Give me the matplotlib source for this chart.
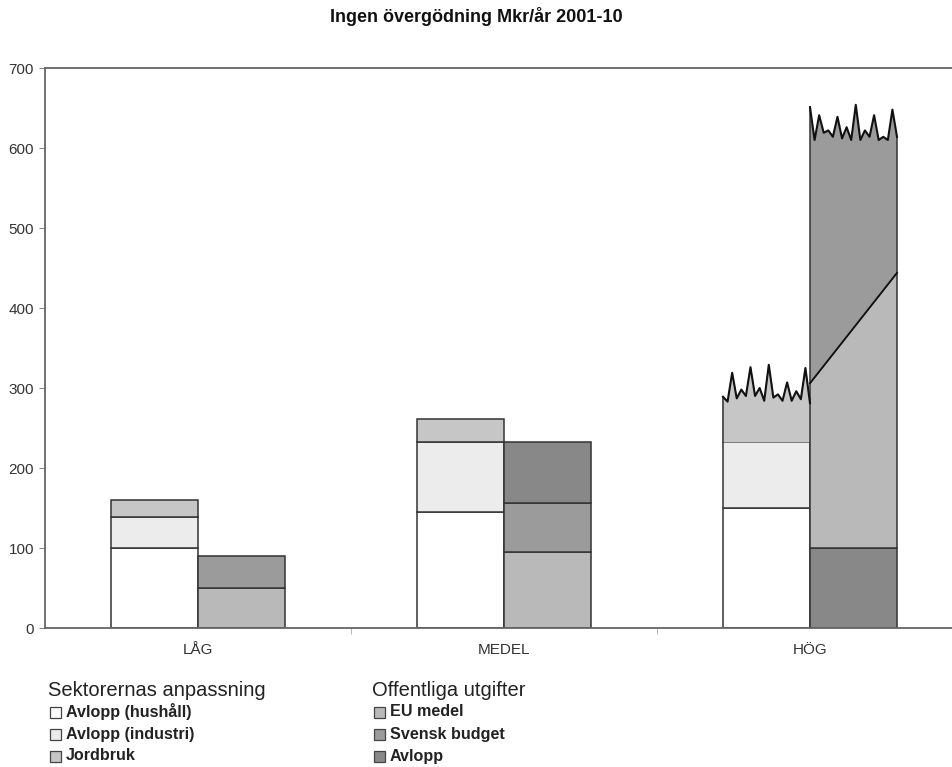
import numpy as np
import matplotlib.pyplot as plt
from matplotlib.patches import Rectangle

plt.rcParams['font.family'] = ['Liberation Sans', 'DejaVu Sans']

categories = ['LÅG', 'MEDEL', 'HÖG']
yticks = [0, 100, 200, 300, 400, 500, 600, 700]

# Sektorernas anpassning (vänster stapel i varje grupp)
avlopp_hushall = [100, 145, 150]
avlopp_industri = [39, 88, 83]
jordbruk = [21, 28]            # HÖG ritas med taggig topp

# Offentliga utgifter (höger stapel), LÅG och MEDEL
eu_medel = [50, 95]
svensk_budget = [40, 61]
avlopp_off = [0, 77]

# HÖG, offentliga utgifter
hog_avlopp = 100
hog_eu_start, hog_eu_end = 306, 444

# taggiga toppar (HÖG)
hog_jordbruk_topp = [289, 283, 319, 287, 298, 290, 326, 290, 300, 284,
                     329, 288, 292, 284, 307, 284, 296, 286, 325, 281]
hog_offentlig_topp = [651, 610, 641, 619, 622, 614, 639, 612, 626, 610,
                      654, 610, 622, 614, 641, 610, 614, 610, 648, 614]

colors = {
    'hushall': '#ffffff',
    'industri': '#ececec',
    'jordbruk': '#c6c6c6',
    'eu': '#b9b9b9',
    'svensk': '#9b9b9b',
    'avlopp': '#888888',
}
edge = '#333333'
lw = 1.1

fig = plt.figure(figsize=(9.53, 7.67), dpi=100)
ax = fig.add_axes([45 / 953, 139 / 767, 908 / 953, 560 / 767])

w = 87 / 306
x = np.arange(len(categories))

# vänster staplar
bottom = np.zeros(3)
ax.bar(x - w, avlopp_hushall, w, align='edge', color=colors['hushall'], edgecolor=edge, linewidth=lw)
bottom += avlopp_hushall
ax.bar(x - w, avlopp_industri, w, bottom=bottom, align='edge', color=colors['industri'], edgecolor=edge, linewidth=lw)
bottom += avlopp_industri
ax.bar(x[:2] - w, jordbruk, w, bottom=bottom[:2], align='edge', color=colors['jordbruk'], edgecolor=edge, linewidth=lw)

# HÖG jordbruk med taggig topp
xs = np.linspace(2 - w, 2, len(hog_jordbruk_topp))
base = bottom[2]
poly_x = np.concatenate([[2 - w], xs, [2]])
poly_y = np.concatenate([[base], hog_jordbruk_topp, [base]])
ax.fill(poly_x, poly_y, color=colors['jordbruk'], zorder=2)
ax.plot([2 - w, 2 - w], [base, hog_jordbruk_topp[0]], color=edge, lw=lw, zorder=3)
ax.plot(xs, hog_jordbruk_topp, color='#111111', lw=1.5, zorder=3)

# höger staplar LÅG, MEDEL
b2 = np.zeros(2)
ax.bar(x[:2], eu_medel, w, align='edge', color=colors['eu'], edgecolor=edge, linewidth=lw)
b2 += eu_medel
ax.bar(x[:2], svensk_budget, w, bottom=b2, align='edge', color=colors['svensk'], edgecolor=edge, linewidth=lw)
b2 += svensk_budget
ax.bar(x[1:2], avlopp_off[1:2], w, bottom=b2[1:2], align='edge', color=colors['avlopp'], edgecolor=edge, linewidth=lw)

# HÖG höger stapel
ax.bar([2], [hog_avlopp], w, align='edge', color=colors['avlopp'], edgecolor=edge, linewidth=lw)
ax.fill([2, 2 + w, 2 + w, 2], [hog_avlopp, hog_avlopp, hog_eu_end, hog_eu_start],
        facecolor=colors['eu'], edgecolor=edge, linewidth=lw, zorder=2)
xs2 = np.linspace(2, 2 + w, len(hog_offentlig_topp))
sx = np.concatenate([[2, 2 + w], xs2[::-1]])
sy = np.concatenate([[hog_eu_start, hog_eu_end], hog_offentlig_topp[::-1]])
ax.fill(sx, sy, facecolor=colors['svensk'], zorder=2)
ax.plot([2, 2], [hog_eu_start, hog_offentlig_topp[0]], color=edge, lw=lw, zorder=3)
ax.plot([2 + w, 2 + w], [hog_eu_end, hog_offentlig_topp[-1]], color=edge, lw=lw, zorder=3)
ax.plot([2, 2 + w], [hog_eu_start, hog_eu_end], color='#111111', lw=1.3, zorder=3)
ax.plot(xs2, hog_offentlig_topp, color='#111111', lw=1.5, zorder=3)

ax.set_yticks(yticks)
ax.set_yticklabels([str(v) for v in yticks], fontsize=11, color='#333333')
ax.set_xticks(x)
ax.set_xticklabels(categories, fontsize=11, color='#333333')
ax.tick_params(axis='x', length=0, pad=11)
ax.tick_params(axis='y', length=4, color='#888888', pad=4)
ax.set_xticks([0.5, 1.5], minor=True)
ax.tick_params(axis='x', which='minor', length=4, color='#aaaaaa')
# gränser sätts sist så att tickarna inte vidgar dem
ax.set_xlim(-0.5, -0.5 + 908 / 306)
ax.set_ylim(0, 700)
for s in ['left', 'top', 'bottom']:
    ax.spines[s].set_color('#666666')
    ax.spines[s].set_linewidth(1.3)
ax.spines['right'].set_visible(False)

fig.text(476 / 953, 1 - 17 / 767, 'Ingen övergödning Mkr/år 2001-10', ha='center', va='center',
         fontsize=13, fontweight='bold', color='#111111')

# förklaring
legend_groups = [
    ('Sektorernas anpassning', 48, [('Avlopp (hushåll)', 'hushall'), ('Avlopp (industri)', 'industri'), ('Jordbruk', 'jordbruk')]),
    ('Offentliga utgifter', 372, [('EU medel', 'eu'), ('Svensk budget', 'svensk'), ('Avlopp', 'avlopp')]),
]
for title, px, items in legend_groups:
    fig.text(px / 953, 1 - 690 / 767, title, ha='left', va='center', fontsize=14.5, color='#222222')
    for k, (label, key) in enumerate(items):
        py = 712 + k * 22
        fig.patches.append(Rectangle(((px + 2) / 953, 1 - (py + 5.5) / 767), 11 / 953, 11 / 767,
                                     transform=fig.transFigure, facecolor=colors[key],
                                     edgecolor='#444444', linewidth=0.9))
        fig.text((px + 18) / 953, 1 - py / 767, label, ha='left', va='center', fontsize=11.6,
                 fontweight='bold', color='#222222')

fig.savefig('out.png', dpi=100)
